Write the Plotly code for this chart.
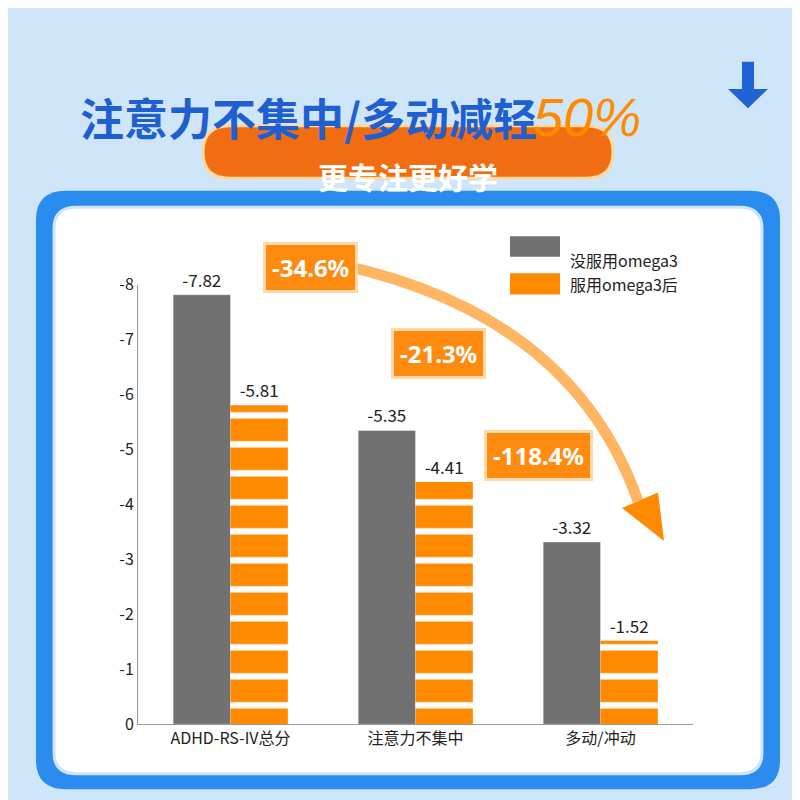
import plotly.graph_objects as go

categories = ["ADHD-RS-IV总分", "注意力不集中", "多动/冲动"]
before = [-7.82, -5.35, -3.32]
after = [-5.81, -4.41, -1.52]
changes = ["-34.6%", "-21.3%", "-118.4%"]
tick_vals = [0, -1, -2, -3, -4, -5, -6, -7, -8]
tick_text = ["0", "-1", "-2", "-3", "-4", "-5", "-6", "-7", "-8"]

W = 800


def P(x, y):
    return x / W, 1 - y / W


def rrect(x0, y0, x1, y1, r):
    a0, b0 = P(x0, y0)
    a1, b1 = P(x1, y1)
    rx, ry = r / W, r / W
    return (f"M{a0+rx},{b0} L{a1-rx},{b0} Q{a1},{b0} {a1},{b0-ry} "
            f"L{a1},{b1+ry} Q{a1},{b1} {a1-rx},{b1} L{a0+rx},{b1} "
            f"Q{a0},{b1} {a0},{b1+ry} L{a0},{b0-ry} Q{a0},{b0} {a0+rx},{b0} Z")


def pts(*xy):
    s = []
    for i, (x, y) in enumerate(xy):
        px, py = P(x, y)
        s.append(("M" if i == 0 else "L") + f"{px},{py}")
    return " ".join(s) + " Z"


fig = go.Figure()
fig.add_trace(go.Bar(x=categories, y=before, marker_color="#717171", name="没服用omega3",
                     text=[f"{v:.2f}" for v in before], textposition="outside",
                     textfont=dict(size=17, color="#222"), cliponaxis=False))
fig.add_trace(go.Bar(x=categories, y=after, name="服用omega3后",
                     marker=dict(color="#ff8a00", line_width=0,
                                 pattern=dict(shape="-", fgcolor="white", bgcolor="#ff8a00",
                                              fgopacity=1, size=29, solidity=0.22)),
                     text=[f"{v:.2f}" for v in after], textposition="outside",
                     textfont=dict(size=17, color="#222"), cliponaxis=False))

shapes = [
    dict(type="path", xref="paper", yref="paper", path=rrect(28, 175, 772, 792, 30),
         fillcolor="#2b8cf0", line_width=0, layer="below"),
    dict(type="path", xref="paper", yref="paper", path=rrect(46, 192, 754, 776, 22),
         fillcolor="white", line=dict(color="#cfe4fb", width=3), layer="below"),
    dict(type="path", xref="paper", yref="paper", path=rrect(195, 108, 605, 162, 27),
         fillcolor="#f26d12", line=dict(color="#ffd9a0", width=3)),
    dict(type="rect", xref="paper", yref="paper", x0=P(502, 0)[0], x1=P(552, 0)[0],
         y0=P(0, 243)[1], y1=P(0, 222)[1], fillcolor="#717171", line_width=0),
    dict(type="rect", xref="paper", yref="paper", x0=P(502, 0)[0], x1=P(552, 0)[0],
         y0=P(0, 282)[1], y1=P(0, 260)[1], fillcolor="#ff8a00", line_width=0),
]
a, b = P(300, 245)
c, d = P(560, 290)
e, f = P(630, 495)
shapes.append(dict(type="path", xref="paper", yref="paper",
                   path=f"M{a},{b} Q{c},{d} {e},{f}",
                   line=dict(color="rgba(255,150,30,0.7)", width=11)))
shapes.append(dict(type="path", xref="paper", yref="paper",
                   path=pts((614, 502), (656, 536), (650, 486)),
                   fillcolor="#ff8a00", line_width=0))
shapes.append(dict(type="path", xref="paper", yref="paper",
                   path=pts((734, 42), (746, 42), (746, 70), (760, 70), (740, 90), (720, 70), (734, 70)),
                   fillcolor="#1f63d6", line_width=0))

ann = [
    dict(x=P(300, 0)[0], y=P(0, 64)[1], text="<b>注意力不集中/多动减轻</b>", showarrow=False,
         font=dict(size=44, color="#1f5fcf", family="Noto Sans CJK SC")),
    dict(x=P(635, 0)[0], y=P(0, 66)[1], text="<i>50%</i>", showarrow=False,
         font=dict(size=54, color="#ff8a00", family="Liberation Sans")),
    dict(x=P(400, 0)[0], y=P(0, 135)[1], text="<b>更专注更好学</b>", showarrow=False,
         font=dict(size=30, color="white", family="Noto Sans CJK SC")),
    dict(x=P(560, 0)[0], y=P(0, 232)[1], text="没服用omega3", xanchor="left", showarrow=False,
         font=dict(size=16, color="#222")),
    dict(x=P(560, 0)[0], y=P(0, 271)[1], text="服用omega3后", xanchor="left", showarrow=False,
         font=dict(size=16, color="#222")),
]
for (cx, cy), t in zip([(255, 228), (430, 343), (585, 448)], changes):
    ann.append(dict(x=P(cx, 0)[0], y=P(0, cy)[1], text=f"<b>{t}</b>", showarrow=False,
                    bgcolor="#ff8a10", bordercolor="#ffd9a8", borderwidth=3, borderpad=6,
                    font=dict(size=24, color="white", family="Noto Sans")))
for an in ann:
    an["xref"] = "paper"
    an["yref"] = "paper"

fig.update_layout(
    width=800, height=800, margin=dict(l=0, r=0, t=0, b=0),
    paper_bgcolor="#cfe6fa", plot_bgcolor="white",
    font=dict(family="Noto Sans CJK SC"), showlegend=False,
    barmode="group", bargap=0.38, bargroupgap=0,
    xaxis=dict(domain=[130 / W, 685 / W], showline=True, linecolor="#999", linewidth=1,
               tickfont=dict(size=16, color="#222"), ticks=""),
    yaxis=dict(domain=[1 - 725 / W, 1 - 272 / W], range=[0, -8], tickvals=tick_vals,
               ticktext=tick_text, showgrid=False, showline=True, linecolor="#999",
               zeroline=False, tickfont=dict(size=16, color="#222")),
    shapes=shapes, annotations=ann,
)
fig.write_html("out.html")
